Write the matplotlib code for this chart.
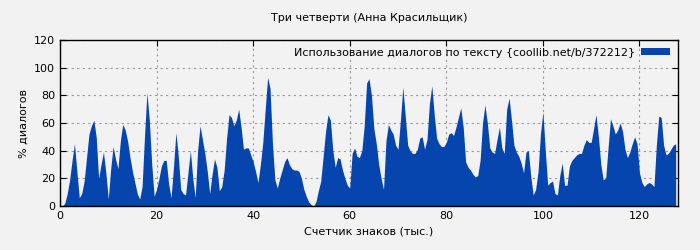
import numpy as np
import matplotlib
matplotlib.use("Agg")
import matplotlib.pyplot as plt

# dialogue share, one value every 0.5 thousand characters (starting at 0)
step = 0.5
dialog_pct = [
    0, 0, 2, 9, 19, 33, 45, 25, 6, 9,
    18, 35, 52, 58, 62, 50, 20, 30, 39, 24,
    5, 27, 43, 34, 27, 47, 59, 55, 47, 35,
    25, 17, 9, 5, 14, 50, 82, 62, 30, 7,
    12, 20, 29, 33, 33, 16, 6, 28, 53, 36,
    12, 9, 8, 24, 40, 20, 6, 40, 58, 48,
    38, 25, 9, 23, 34, 28, 11, 14, 26, 49,
    66, 64, 58, 62, 70, 57, 41, 42, 42, 37,
    32, 25, 17, 30, 46, 70, 93, 85, 45, 19,
    13, 20, 26, 32, 35, 30, 27, 26, 26, 25,
    20, 12, 7, 3, 1, 0, 3, 11, 18, 36,
    54, 66, 62, 40, 28, 35, 34, 26, 20, 15,
    13, 38, 42, 36, 35, 40, 58, 89, 92, 80,
    56, 45, 30, 20, 12, 47, 59, 55, 52, 44,
    41, 62, 86, 65, 44, 40, 38, 38, 41, 49,
    50, 41, 48, 74, 87, 66, 49, 45, 43, 43,
    46, 52, 53, 51, 57, 64, 71, 57, 32, 28,
    26, 23, 21, 22, 33, 60, 73, 60, 42, 39,
    38, 48, 57, 42, 38, 70, 78, 62, 44, 39,
    36, 31, 24, 39, 40, 21, 8, 12, 25, 52,
    68, 40, 15, 17, 18, 9, 8, 22, 31, 15,
    15, 29, 33, 35, 37, 38, 38, 44, 48, 46,
    46, 56, 66, 50, 30, 19, 20, 42, 63, 58,
    52, 55, 60, 54, 41, 35, 39, 45, 50, 45,
    24, 17, 14, 16, 17, 16, 14, 44, 65, 64,
    44, 37, 38, 41, 44, 45,
]
x = np.arange(len(dialog_pct)) * step

bg = "#f2f2f2"
blue = "#0645ad"

fig = plt.figure(figsize=(7, 2.5), dpi=100, facecolor=bg)
ax = fig.add_axes([0.0857, 0.176, 0.883, 0.664], facecolor=bg)

ax.fill_between(x, dialog_pct, color=blue, linewidth=0,
                label="Использование диалогов по тексту {coollib.net/b/372212}")

ax.set_xlim(0, 128)
ax.set_ylim(0, 120)
ax.set_xticks(range(0, 121, 20))
ax.set_yticks(range(0, 121, 20))
ax.grid(True, color="#999999", linestyle=(0, (2, 3)), linewidth=0.8)
ax.set_axisbelow(True)
ax.tick_params(labelsize=8, direction="in", top=True, right=True, length=4)
for s in ax.spines.values():
    s.set_linewidth(1.0)
    s.set_zorder(3)

ax.set_title("Три четверти (Анна Красильщик)", fontsize=8, pad=14)
ax.set_xlabel("Счетчик знаков (тыс.)", fontsize=8)
ax.set_ylabel("% диалогов", fontsize=8)

leg = ax.legend(loc="upper right", frameon=False, fontsize=8, markerfirst=False,
                handlelength=2.6, handleheight=0.6, handletextpad=0.6,
                borderaxespad=0.6, borderpad=0.1)

fig.savefig("out.png", dpi=100, facecolor=bg)
